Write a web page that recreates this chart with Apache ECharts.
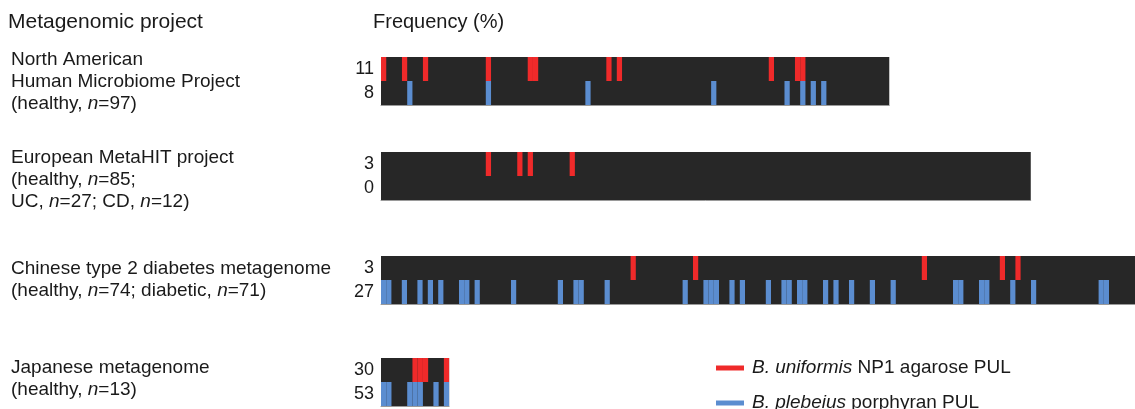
<!DOCTYPE html>
<html>
<head>
<meta charset="utf-8">
<script src="https://cdn.jsdelivr.net/npm/echarts@6/dist/echarts.min.js"></script>
<style>
html,body{margin:0;padding:0;background:#fff;}
#chart{width:1135px;height:409px;}
</style>
</head>
<body>
<div id="chart"></div>
<script>
// ---- data ----
const projectLabels = [
  'North American\nHuman Microbiome Project\n(healthy, {i|n}=97)',
  'European MetaHIT project\n(healthy, {i|n}=85;\nUC, {i|n}=27; CD, {i|n}=12)',
  'Chinese type 2 diabetes metagenome\n(healthy, {i|n}=74; diabetic, {i|n}=71)',
  'Japanese metagenome\n(healthy, {i|n}=13)'
];
const sampleCounts = [97, 124, 145, 13];
const freqAgarose = ['11', '3', '3', '30'];
const freqPorphyran = ['8', '0', '27', '53'];
const agaroseCarriers = [
  [0, 4, 8, 20, 28, 29, 43, 45, 74, 79, 80],
  [20, 26, 28, 36],
  [48, 60, 104, 119, 122],
  [6, 7, 8, 12]
];
const porphyranCarriers = [
  [5, 20, 39, 63, 77, 80, 82, 84],
  [],
  [0, 1, 4, 7, 9, 11, 15, 16, 18, 25, 34, 37, 38, 43, 58, 62, 63, 64, 67, 69, 74, 77, 78, 80, 81, 85, 87, 90, 94, 98, 110, 111, 115, 116, 121, 125, 138, 139],
  [0, 1, 5, 6, 7, 10, 12]
];
const legendNames = ['agarose', 'porphyran'];
const legendLabels = {
  agarose: '{i|B. uniformis} NP1 agarose PUL',
  porphyran: '{i|B. plebeius} porphyran PUL'
};

// ---- layout / style ----
const FONT = '"Liberation Sans", Arial, Helvetica, sans-serif';
const TXT = '#1a1a1a';
const RED = '#ef2a2a';
const BLUE = '#5b8dd0';
const PX_PER_SAMPLE = 5.24;
const gridTops = [57, 152, 256, 358];
const gridHeight = 48;
const labelTops = [49, 147, 258, 357];
const legendTops = [357, 392];

function renderItem(params, api) {
  const start = api.coord([api.value(0), api.value(1)]);
  const size = api.size([1, 1]);
  return {
    type: 'rect',
    shape: { x: start[0], y: start[1] - size[1] / 2, width: size[0], height: size[1] },
    style: { fill: api.visual('color') }
  };
}

const grids = [], xAxes = [], yAxes = [], series = [];
sampleCounts.forEach((n, i) => {
  grids.push({
    left: 381, top: gridTops[i], width: n * PX_PER_SAMPLE, height: gridHeight,
    show: true, backgroundColor: '#272727', borderWidth: 0
  });
  xAxes.push({
    gridIndex: i, type: 'value', min: 0, max: n,
    axisLine: { show: true, lineStyle: { color: '#9a9a9a', width: 1 } },
    axisTick: { show: false }, axisLabel: { show: false }, splitLine: { show: false }
  });
  yAxes.push({
    gridIndex: i, type: 'category', data: [freqPorphyran[i], freqAgarose[i]],
    axisLine: { show: false }, axisTick: { show: false }, splitLine: { show: false },
    axisLabel: { margin: 7, color: TXT, fontSize: 18, fontFamily: FONT }
  });
  series.push({
    name: 'agarose', type: 'custom', xAxisIndex: i, yAxisIndex: i,
    itemStyle: { color: RED }, renderItem: renderItem, silent: true,
    data: agaroseCarriers[i].map(s => [s, 1])
  });
  series.push({
    name: 'porphyran', type: 'custom', xAxisIndex: i, yAxisIndex: i,
    itemStyle: { color: BLUE }, renderItem: renderItem, silent: true,
    data: porphyranCarriers[i].map(s => [s, 0])
  });
});

const titles = [
  { text: 'Metagenomic project', left: 8, top: 10, padding: 0,
    textStyle: { fontSize: 21, fontWeight: 'normal', color: TXT, fontFamily: FONT, lineHeight: 24 } },
  { text: 'Frequency (%)', left: 373, top: 10, padding: 0,
    textStyle: { fontSize: 20, fontWeight: 'normal', color: TXT, fontFamily: FONT, lineHeight: 24 } }
];
projectLabels.forEach((t, i) => {
  titles.push({
    text: t, left: 11, top: labelTops[i], padding: 0,
    textStyle: {
      fontSize: 19, fontWeight: 'normal', color: TXT, fontFamily: FONT, lineHeight: 22,
      rich: { i: { fontStyle: 'italic', fontSize: 19, color: TXT, fontFamily: FONT, lineHeight: 22 } }
    }
  });
});

const legends = legendNames.map((name, i) => ({
  data: [name],
  orient: 'horizontal', left: 716, top: legendTops[i], padding: 0,
  itemWidth: 28, itemHeight: 5, icon: 'rect', selectedMode: false,
  formatter: nm => legendLabels[nm],
  textStyle: {
    fontSize: 19, color: TXT, fontFamily: FONT, lineHeight: 22, padding: [0, 0, 0, 3],
    rich: { i: { fontStyle: 'italic', fontSize: 19, color: TXT, fontFamily: FONT, lineHeight: 22 } }
  }
}));

const chart = echarts.init(document.getElementById('chart'), null, { renderer: 'canvas' });
chart.setOption({
  animation: false,
  backgroundColor: '#ffffff',
  title: titles,
  grid: grids,
  xAxis: xAxes,
  yAxis: yAxes,
  legend: legends,
  series: series
});
</script>
</body>
</html>
